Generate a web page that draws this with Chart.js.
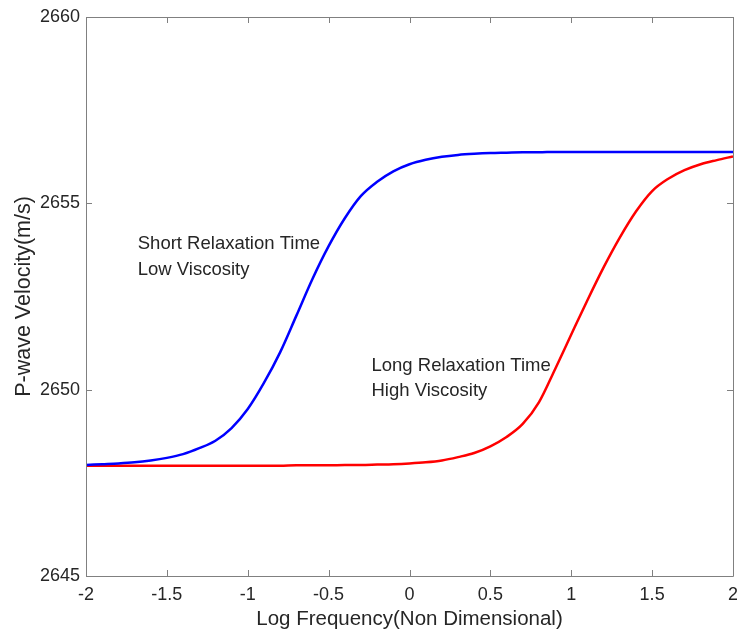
<!DOCTYPE html>
<html>
<head>
<meta charset="utf-8">
<title>P-wave velocity dispersion</title>
<script src="https://cdn.jsdelivr.net/npm/chart.js@4.4.1/dist/chart.umd.min.js"></script>
<style>
  html, body { margin: 0; padding: 0; background: #fff; }
  #wrap { width: 737px; height: 634px; }
</style>
</head>
<body>
<div id="wrap"><canvas id="velChart" width="737" height="634"></canvas></div>
<script>
// -------------------------------
// DATA
// -------------------------------
const logFreq = [
  -2.0, -1.9, -1.8, -1.7, -1.6, -1.5, -1.4, -1.3, -1.2, -1.1,
  -1.0, -0.9, -0.8, -0.7, -0.6, -0.5, -0.4, -0.3, -0.2, -0.1,
   0.0,  0.1,  0.2,  0.3,  0.4,  0.5,  0.6,  0.7,  0.8,  0.9,
   1.0,  1.1,  1.2,  1.3,  1.4,  1.5,  1.6,  1.7,  1.8,  1.9, 2.0
];

// short relaxation time / low viscosity (blue)
const shortRelax = [
  2647.98, 2648.00, 2648.02, 2648.05, 2648.10, 2648.17, 2648.27, 2648.43, 2648.63, 2648.97,
  2649.48, 2650.18, 2651.00, 2651.98, 2652.97, 2653.85, 2654.60, 2655.20, 2655.58, 2655.86,
  2656.05, 2656.17, 2656.25, 2656.30, 2656.33, 2656.35, 2656.36, 2656.37, 2656.37, 2656.38,
  2656.38, 2656.38, 2656.38, 2656.38, 2656.38, 2656.38, 2656.38, 2656.38, 2656.38, 2656.38, 2656.38
];

// long relaxation time / high viscosity (red)
const longRelax = [
  2647.96, 2647.96, 2647.96, 2647.96, 2647.96, 2647.96, 2647.96, 2647.96, 2647.96, 2647.96,
  2647.96, 2647.96, 2647.96, 2647.97, 2647.97, 2647.97, 2647.98, 2647.98, 2647.99, 2648.00,
  2648.02, 2648.05, 2648.10, 2648.19, 2648.30, 2648.48, 2648.73, 2649.08, 2649.66, 2650.55,
  2651.48, 2652.40, 2653.28, 2654.08, 2654.78, 2655.33, 2655.66, 2655.89, 2656.05, 2656.16, 2656.26
];

const xTicks = [-2, -1.5, -1, -0.5, 0, 0.5, 1, 1.5, 2];
const yTicks = [2645, 2650, 2655, 2660];

// annotation text: [x, y, line]
const notes = [
  [-1.68, 2653.91, "Short Relaxation Time"],
  [-1.68, 2653.22, "Low Viscosity"],
  [-0.235, 2650.63, "Long Relaxation Time"],
  [-0.235, 2649.96, "High Viscosity"]
];

const FONT = "'Liberation Sans', Arial, Helvetica, sans-serif";
const AXIS_GRAY = "#808080";
const TEXT_COL = "#262626";

function toPoints(xs, ys) {
  return xs.map((x, i) => ({ x: x, y: ys[i] }));
}

// -------------------------------
// PLUGIN: box + inward ticks + notes
// -------------------------------
const boxPlugin = {
  id: "matlabBox",
  afterDatasetsDraw(chart) {
    const { ctx, chartArea: a, scales } = chart;
    const xs = scales.x, ys = scales.y;
    const len = 6;
    ctx.save();
    ctx.strokeStyle = AXIS_GRAY;
    ctx.lineWidth = 1;
    ctx.beginPath();
    ctx.rect(Math.round(a.left) + 0.5, Math.round(a.top) + 0.5,
             Math.round(a.right - a.left), Math.round(a.bottom - a.top));
    xTicks.forEach(v => {
      const px = Math.round(xs.getPixelForValue(v)) + 0.5;
      ctx.moveTo(px, a.bottom); ctx.lineTo(px, a.bottom - len);
      ctx.moveTo(px, a.top); ctx.lineTo(px, a.top + len);
    });
    yTicks.forEach(v => {
      const py = Math.round(ys.getPixelForValue(v)) + 0.5;
      ctx.moveTo(a.left, py); ctx.lineTo(a.left + len, py);
      ctx.moveTo(a.right, py); ctx.lineTo(a.right - len, py);
    });
    ctx.stroke();

    ctx.fillStyle = TEXT_COL;
    ctx.font = "18.5px " + FONT;
    ctx.textBaseline = "middle";
    ctx.textAlign = "left";
    notes.forEach(n => {
      ctx.fillText(n[2], xs.getPixelForValue(n[0]), ys.getPixelForValue(n[1]));
    });
    ctx.restore();
  }
};

// -------------------------------
// RENDER
// -------------------------------
const ctx = document.getElementById("velChart").getContext("2d");

new Chart(ctx, {
  type: "line",
  data: {
    datasets: [
      {
        label: "Short Relaxation Time",
        data: toPoints(logFreq, shortRelax),
        borderColor: "#0000FF",
        borderWidth: 2.5,
        pointRadius: 0,
        cubicInterpolationMode: "monotone",
        fill: false
      },
      {
        label: "Long Relaxation Time",
        data: toPoints(logFreq, longRelax),
        borderColor: "#FF0000",
        borderWidth: 2.5,
        pointRadius: 0,
        cubicInterpolationMode: "monotone",
        fill: false
      }
    ]
  },
  options: {
    responsive: false,
    animation: false,
    layout: { padding: { top: 17, right: 4, left: 0, bottom: 0 } },
    plugins: {
      legend: { display: false },
      tooltip: { enabled: false }
    },
    scales: {
      x: {
        type: "linear",
        min: -2,
        max: 2,
        grid: { display: false, drawTicks: false },
        border: { display: false },
        afterBuildTicks: s => { s.ticks = xTicks.map(v => ({ value: v })); },
        afterFit: s => { s.height = 58; s.paddingLeft = 0; s.paddingRight = 0; },
        ticks: {
          color: TEXT_COL,
          font: { family: FONT, size: 18 },
          padding: 8,
          maxRotation: 0,
          autoSkip: false,
          callback: v => String(v)
        },
        title: {
          display: true,
          text: "Log Frequency(Non Dimensional)",
          color: TEXT_COL,
          font: { family: FONT, size: 20.5 },
          padding: { top: 0, bottom: 2 }
        }
      },
      y: {
        min: 2645,
        max: 2660,
        grid: { display: false, drawTicks: false },
        border: { display: false },
        afterBuildTicks: s => { s.ticks = yTicks.map(v => ({ value: v })); },
        afterFit: s => { s.width = 86; s.paddingTop = 0; s.paddingBottom = 0; },
        ticks: {
          color: TEXT_COL,
          font: { family: FONT, size: 18 },
          padding: 6,
          callback: v => String(v)
        },
        title: {
          display: true,
          text: "P-wave Velocity(m/s)",
          color: TEXT_COL,
          font: { family: FONT, size: 21.5 },
          padding: { top: 11, bottom: 0 }
        }
      }
    }
  },
  plugins: [boxPlugin]
});
</script>
</body>
</html>
